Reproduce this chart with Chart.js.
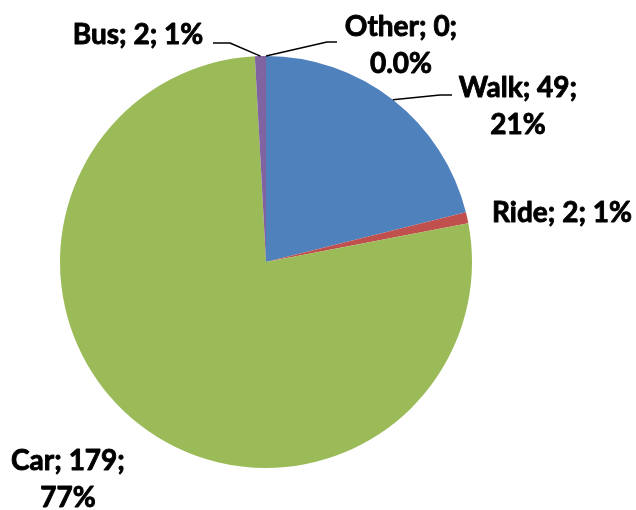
<!DOCTYPE html>
<html>
<head>
<meta charset="utf-8">
<script src="https://cdn.jsdelivr.net/npm/chart.js@4"></script>
<style>
  html, body { margin: 0; padding: 0; background: #fff; }
  #wrap { width: 636px; height: 510px; }
</style>
</head>
<body>
<div id="wrap"><canvas id="modeChart" width="636" height="510"></canvas></div>
<script>
var categories = ['Walk', 'Ride', 'Car', 'Bus', 'Other'];
var counts = [49, 2, 179, 2, 0];
var pctLabels = ['21%', '1%', '77%', '1%', '0.0%'];
var colors = ['#4F81BD', '#C0504D', '#9BBB59', '#8064A2', '#F79646'];

// label lines as Excel wraps them
var labelLines = [
    ['Walk; 49;', '21%'],
    ['Ride; 2; 1%'],
    ['Car; 179;', '77%'],
    ['Bus; 2; 1%'],
    ['Other; 0;', '0.0%']
];

// where each label sits, relative to pie centre (px); elbow = leader line bend
var labelPlace = [
    { x: 252, y: -156, elbow: [174, -167], end: [186, -167] },
    { x: 296, y: -49 },
    { x: -198, y: 217 },
    { x: -128, y: -227, elbow: [-36, -219], end: [-53, -219] },
    { x: 135, y: -217, elbow: [61, -220], end: [71, -220] }
];

var pieLabels = {
    id: 'pieLabels',
    afterDatasetsDraw: function (chart) {
        var ctx = chart.ctx;
        var meta = chart.getDatasetMeta(0);
        ctx.save();
        ctx.font = 'bold 28px Lato, "Open Sans", sans-serif';
        ctx.fillStyle = '#000';
        ctx.textAlign = 'center';
        ctx.textBaseline = 'middle';
        meta.data.forEach(function (arc, i) {
            var p = labelPlace[i];
            var cx = arc.x, cy = arc.y;
            if (p.elbow) {
                var mid = (arc.startAngle + arc.endAngle) / 2;
                var ax = cx + Math.cos(mid) * arc.outerRadius;
                var ay = cy + Math.sin(mid) * arc.outerRadius;
                ctx.beginPath();
                ctx.strokeStyle = '#000';
                ctx.lineWidth = 1.5;
                ctx.moveTo(ax, ay);
                ctx.lineTo(cx + p.elbow[0], cy + p.elbow[1]);
                ctx.lineTo(cx + p.end[0], cy + p.end[1]);
                ctx.stroke();
            }
            var lines = labelLines[i];
            var lh = 37;
            var y0 = cy + p.y - (lines.length - 1) * lh / 2;
            ctx.lineWidth = 0.9;
            ctx.lineJoin = 'round';
            lines.forEach(function (t, k) {
                ctx.fillText(t, cx + p.x, y0 + k * lh);
                ctx.strokeText(t, cx + p.x, y0 + k * lh);
            });
        });
        ctx.restore();
    }
};

var ctx = document.getElementById('modeChart').getContext('2d');
var modeChart = new Chart(ctx, {
    type: 'pie',
    data: {
        labels: categories,
        datasets: [{
            data: counts,
            backgroundColor: colors,
            borderWidth: 0
        }]
    },
    options: {
        responsive: false,
        animation: false,
        layout: {
            padding: { left: 60, right: 164, top: 56, bottom: 42 }
        },
        plugins: {
            legend: { display: false },
            tooltip: { enabled: false }
        }
    },
    plugins: [pieLabels]
});
</script>
</body>
</html>
